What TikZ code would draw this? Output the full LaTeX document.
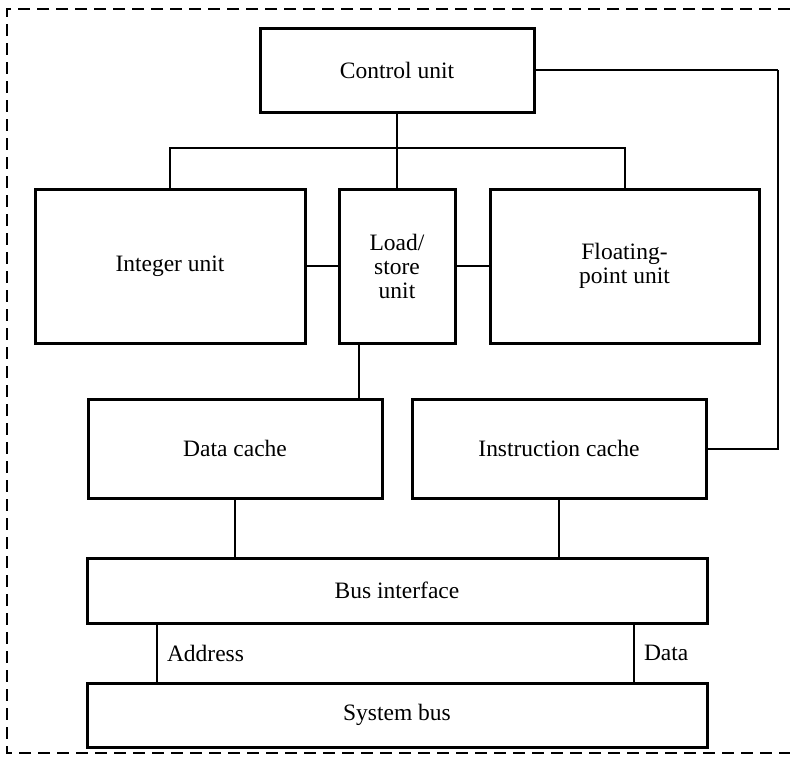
\documentclass[tikz,border=0pt]{standalone}
\usepackage{fontspec}
\setmainfont{Liberation Serif}
\begin{document}
\begin{tikzpicture}[x=1pt,y=-1pt,line width=2pt,
		unit/.style={draw,line width=3pt,inner sep=0pt,align=center,
			font=\fontsize{23.5}{24}\selectfont},
		lbl/.style={right,inner sep=9pt,font=\fontsize{23.5}{24}\selectfont}]
		\useasboundingbox (0,0) rectangle (790,764);
		\draw[dash pattern=on 12pt off 7pt] (790,9) -- (7,9) -- (7,753) -- (790,753);
		\node (ctrl) [unit,minimum width=274pt,minimum height=84pt] at (397,70) {Control unit};
		\node (intu) [unit,minimum width=270pt,minimum height=154pt] at (170,266) {Integer unit};
		\node (lsu) [unit,minimum width=116pt,minimum height=154pt] at (397,266) {Load/\\store\\unit};
		\node (fpu) [unit,minimum width=269pt,minimum height=154pt] at (624.5,266) {Floating-\\point unit};
		\node (dcache) [unit,minimum width=294pt,minimum height=99pt] at (235,448.5) {Data cache};
		\node (icache) [unit,minimum width=294pt,minimum height=99pt] at (559,448.5) {Instruction cache};
		\node (busif) [unit,minimum width=620pt,minimum height=65pt] at (397,590.5) {Bus interface};
		\node (sysbus) [unit,minimum width=620pt,minimum height=64pt] at (397,715) {System bus};
		\coordinate (split) at (397,148);
		\coordinate (ret) at (778,70);
		\path
		(ctrl) edge (lsu)
		(intu) edge (lsu)
		(lsu) edge (fpu)
		(ctrl.east) edge (ret);
		\draw (intu.north) |- (split) -| (fpu.north);
		\draw (ret) |- (icache.east);
		\draw ([xshift=-38pt]lsu.south) -- ([xshift=-38pt]lsu.south |- dcache.north);
		\draw (dcache.south) -- (dcache.south |- busif.north);
		\draw (icache.south) -- (icache.south |- busif.north);
		\draw ([xshift=-240pt]busif.south) -- node[lbl] {Address} ([xshift=-240pt]busif.south |- sysbus.north);
		\draw ([xshift=237pt]busif.south) -- node[lbl] {Data} ([xshift=237pt]busif.south |- sysbus.north);
	\end{tikzpicture}
\end{document}
